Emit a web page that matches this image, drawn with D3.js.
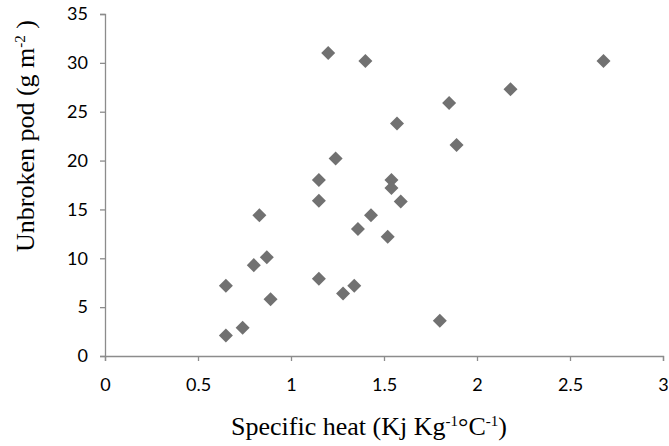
<!DOCTYPE html>
<html>
<head>
<meta charset="utf-8">
<script src="https://cdn.jsdelivr.net/npm/d3@7"></script>
<style>
  body { margin: 0; background: #fff; }
  svg { display: block; }
  .tick text { font-family: Lato, "Open Sans", sans-serif; font-size: 18px; }
  .title { font-family: "Liberation Serif", "DejaVu Serif", serif; font-size: 26px; }
</style>
</head>
<body>
<svg id="chart" width="669" height="446"></svg>
<script>
// specific heat (x) and unbroken pod (y)
const heat = [1.20, 1.40, 2.68, 2.18, 1.85, 1.57, 1.89, 1.24, 1.54, 1.54,
              1.59, 1.43, 1.15, 1.15, 0.83, 1.36, 1.52, 0.87, 0.80, 1.15,
              0.65, 1.34, 1.28, 0.89, 1.80, 0.74, 0.65];
const pod = [31.0, 30.2, 30.2, 27.3, 25.9, 23.8, 21.6, 20.2, 18.0, 17.2,
             15.8, 14.4, 18.0, 15.9, 14.4, 13.0, 12.2, 10.1, 9.3, 7.9,
             7.2, 7.2, 6.4, 5.8, 3.6, 2.9, 2.1];
const xTicks = [0, 0.5, 1, 1.5, 2, 2.5, 3];
const yTicks = [0, 5, 10, 15, 20, 25, 30, 35];

const points = heat.map((h, i) => ({ x: h, y: pod[i] }));

const svg = d3.select("#chart");
const plotLeft = 105, plotRight = 663, plotTop = 14, plotBottom = 356;

const scX = d3.scaleLinear().domain([0, 3]).range([plotLeft, plotRight]);
const scY = d3.scaleLinear().domain([0, 35]).range([plotBottom, plotTop]);

// axes
let axX = svg.append("g")
    .attr("transform", `translate(0, ${plotBottom})`)
    .call(d3.axisBottom(scX).tickValues(xTicks).tickSize(5).tickPadding(17)
        .tickFormat(d => d));
let axY = svg.append("g")
    .attr("transform", `translate(${plotLeft}, 0)`)
    .call(d3.axisLeft(scY).tickValues(yTicks).tickSize(5).tickPadding(12));

[axX, axY].forEach(ax => {
    ax.attr("font-family", null).attr("font-size", null);
    ax.select(".domain").attr("stroke", "#8c8c8c").attr("stroke-width", 1.3);
    ax.selectAll(".tick line").attr("stroke", "#8c8c8c").attr("stroke-width", 1.3);
    ax.selectAll("text").attr("fill", "#000");
});

// diamonds
svg.selectAll(".dot")
    .data(points)
    .enter()
    .append("path")
    .attr("class", "dot")
    .attr("d", d3.symbol().type(d3.symbolDiamond2).size(125))
    .attr("transform", d => `translate(${scX(d.x)}, ${scY(d.y)})`)
    .attr("fill", "#717171");

// axis titles
let xt = svg.append("text")
    .attr("class", "title")
    .attr("x", 369)
    .attr("y", 435)
    .attr("text-anchor", "middle");
xt.append("tspan").text("Specific heat (Kj Kg");
xt.append("tspan").attr("dy", -9).style("font-size", "15px").text("-1");
xt.append("tspan").attr("dy", 9).text("°C");
xt.append("tspan").attr("dy", -9).style("font-size", "15px").text("-1");
xt.append("tspan").attr("dy", 9).text(")");

let yt = svg.append("text")
    .attr("class", "title")
    .attr("transform", "translate(34, 136) rotate(-90)")
    .attr("text-anchor", "middle");
yt.append("tspan").text("Unbroken pod (g m");
yt.append("tspan").attr("dy", -9).style("font-size", "15px").text("-2");
yt.append("tspan").attr("dy", 9).text(" )");
</script>
</body>
</html>
